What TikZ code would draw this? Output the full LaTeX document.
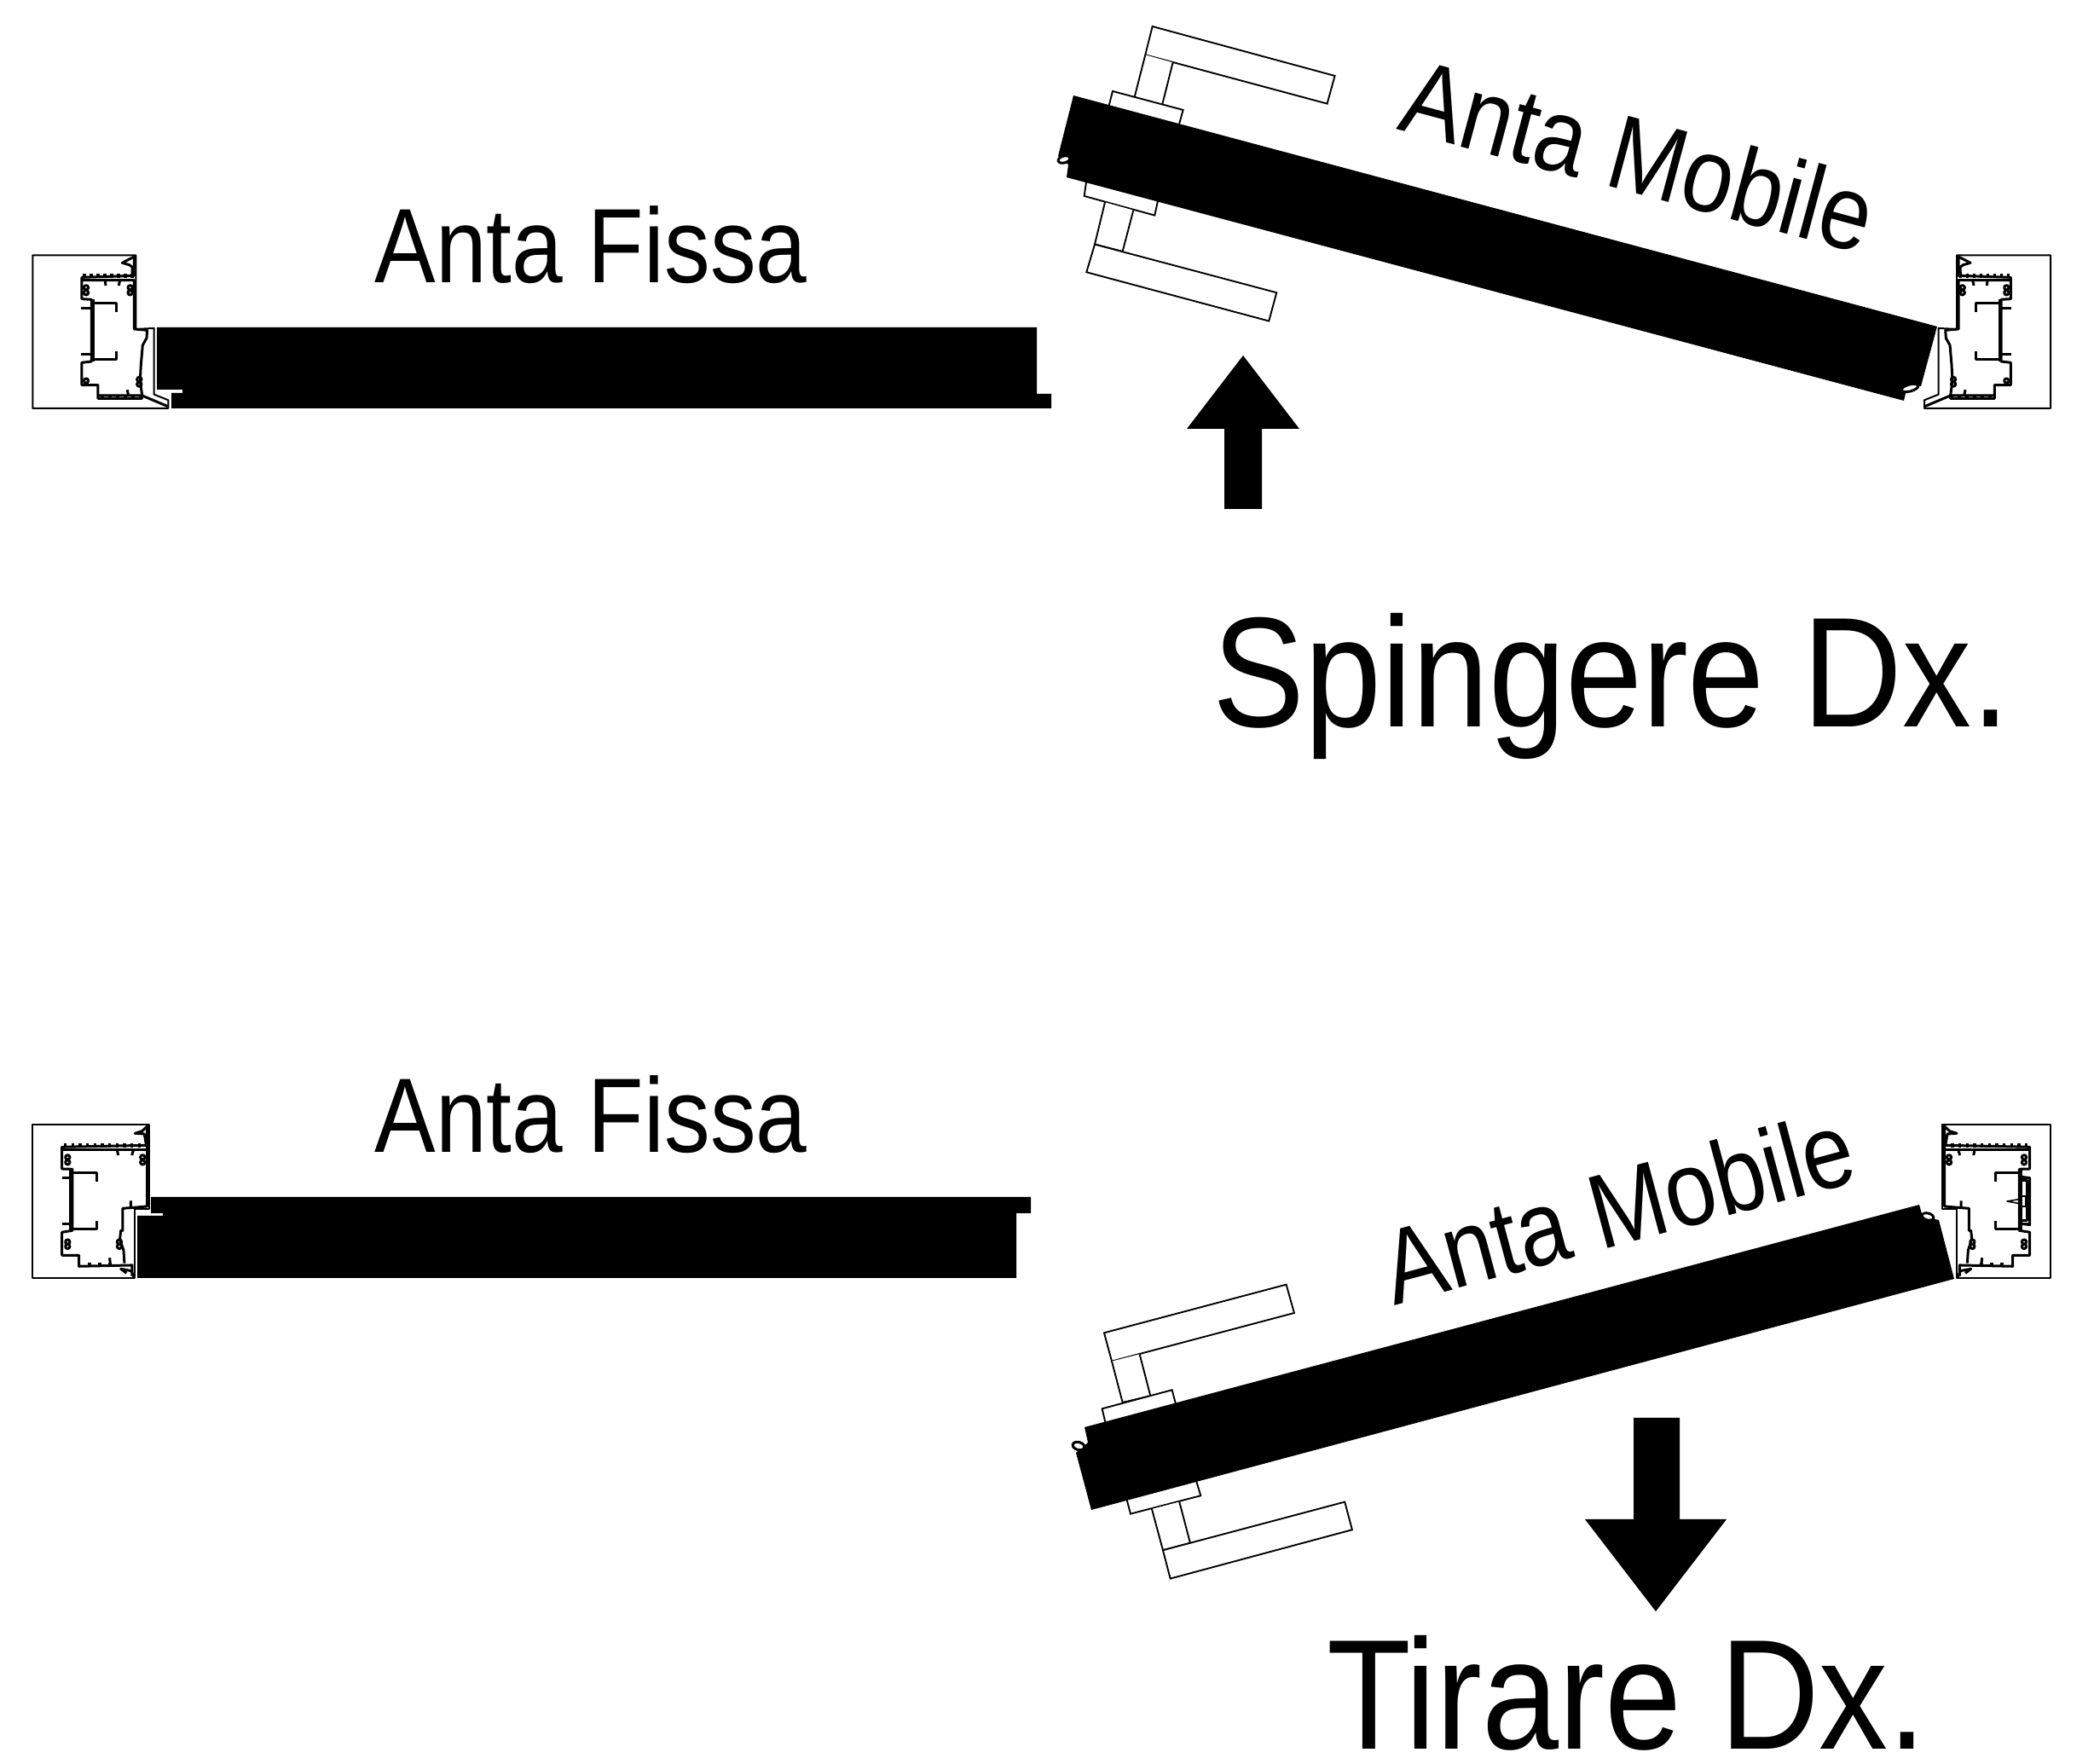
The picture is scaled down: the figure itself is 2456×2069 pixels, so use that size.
\documentclass[tikz,border=0pt]{standalone}
\usepackage{fontspec}
\setmainfont{Liberation Sans}
\tikzset{
  detail/.style={x=.03333mm,y=-.03333mm,line width=.3mm,line join=round},
  fitting/.style={draw,fill=white,line width=.19mm,line join=miter},
  panel/.style={fill=black},
  small label/.style={font=\fontsize{35.3pt}{36pt}\selectfont,anchor=base,inner sep=0pt},
  big label/.style={font=\fontsize{52.3pt}{53pt}\selectfont,anchor=base,inner sep=0pt,xscale=.88},
}
% profilo stretto, #1 = bordo esterno del telaio
\newcommand{\profilestretto}[1]{
  \draw[line width=.2mm] (#1,58) -- (418,58) -- (418,318) -- (482,315) -- (482,548) -- (532,568) -- (532,597) -- (#1,597) -- cycle;
  \draw (412,60) -- (412,130) -- (228,136) -- (228,212) -- (262,214) -- (262,432) -- (228,436) -- (228,515) -- (285,515) -- (285,562) -- (440,562) -- (440,550) -- (433,500) -- (436,445) -- (442,375) -- (456,350) -- (458,322) -- (412,318) -- (412,146) -- (232,146);
  \draw (285,552) -- (440,552) -- (530,590);
  \draw (268,214) -- (268,432);
  \draw (262,228) -- (350,228) -- (350,258);
  \draw (262,425) -- (350,425) -- (350,395);
  \draw (225,245) -- (262,245);
  \draw (225,407) -- (262,407);
  \draw (310,146) -- (312,165);
  \draw (362,146) -- (358,165);
  \draw (392,552) -- (388,532);
  \foreach \tx in {232,256,...,400} \fill (\tx,124) rectangle ++(10,14);
  \foreach \tx in {295,322,...,430} \fill (\tx,548) rectangle ++(11,16);
  \foreach \tx/\ty in {243/172,243/190,398/172,398/190,243/500,430/495,430/512} \draw (\tx,\ty) circle (8);
  \draw (416,62) -- (395,72) -- (370,85) -- (395,92) -- (406,100) -- (405,130);
}
% profilo largo, #1 = bordo esterno del telaio
\newcommand{\profilelargo}[1]{
  \draw[line width=.2mm] (#1,58) -- (465,58) -- (465,355) -- (415,355) -- (415,597) -- (#1,597) -- cycle;
  \draw (458,62) -- (458,345) -- (400,350) -- (400,325);
  \draw (400,350) -- (372,352) -- (372,430) -- (365,430) -- (362,460) -- (375,500) -- (378,545);
  \draw (458,130) -- (158,136) -- (158,213) -- (195,214) -- (195,430) -- (158,436) -- (158,517) -- (218,517) -- (218,556) -- (405,552) -- (405,590);
  \draw (162,146) -- (458,146);
  \draw (188,214) -- (188,430);
  \draw (195,228) -- (280,228) -- (280,258);
  \draw (195,425) -- (280,425) -- (280,395);
  \draw (158,245) -- (195,245);
  \draw (158,407) -- (195,407);
  \draw (352,146) -- (356,165);
  \draw (410,146) -- (404,165);
  \draw (328,545) -- (326,526);
  \foreach \tx in {165,191,...,440} \fill (\tx,124) rectangle ++(10,14);
  \foreach \tx in {250,286,...,330} \fill (\tx,543) rectangle ++(11,15);
  \foreach \tx/\ty in {178/172,178/190,442/172,442/190,178/470,178/486,360/470,360/486} \draw (\tx,\ty) circle (8);
  \draw (462,60) -- (440,80) -- (415,88) -- (448,90) -- (455,130);
  \draw (412,595) -- (402,572) -- (365,565) -- (385,580);
}
\begin{document}
\begin{tikzpicture}[x=.1mm,y=-.1mm]
  \useasboundingbox (0,0) rectangle (2456,2069);

  % ante fisse
  \fill[panel] (184,384) -- (1216,384) -- (1216,462) -- (1233,462) -- (1233,479) -- (201,479) -- (201,461) -- (214,461) -- (214,457) -- (184,457) -- cycle;
  \fill[panel] (177,1404) -- (1209,1404) -- (1209,1423) -- (1192,1423) -- (1192,1499) -- (161,1499) -- (161,1426) -- (191,1426) -- (191,1423) -- (177,1423) -- cycle;

  % maniglie in alto
  \begin{scope}[shift={(1220,20)},detail]
    \draw[fitting] (395,33) -- (1037,207) -- (1010,305) -- (370,133) -- cycle;
    \draw[fitting] (370,133) -- (330,290) -- (428,315) -- (467,160);
    \draw[fitting] (235,340) -- (255,261) -- (503,327) -- (480,410) -- cycle;
    \draw[fitting] (165,560) -- (155,630) -- (403,698) -- (420,620) -- cycle;
    \draw[fitting] (228,652) -- (192,800) -- (290,825) -- (328,680);
    \draw[fitting] (192,800) -- (832,970) -- (805,1070) -- (163,898) -- cycle;
  \end{scope}

  % maniglie in basso
  \begin{scope}[shift={(1240,1480)},detail]
    \draw[fitting] (165,250) -- (806,80) -- (834,180) -- (192,350) -- cycle;
    \draw[fitting] (192,350) -- (230,495) -- (328,472) -- (290,325);
    \draw[fitting] (175,590) -- (158,517) -- (404,451) -- (425,530) -- cycle;
    \draw[fitting] (480,740) -- (505,823) -- (258,887) -- (235,800) -- cycle;
    \draw[fitting] (333,870) -- (372,1015) -- (468,990) -- (430,845);
    \draw[fitting] (372,1015) -- (1012,845) -- (1038,943) -- (398,1115) -- cycle;
  \end{scope}

  % ante mobili
  \fill[panel] (1259,112) -- (2272,383) -- (2253,453) -- (2237,453) -- (2233,470) -- (1251,208) -- (1253,193) -- (1241,183) -- cycle;
  \fill[panel] (1272,1674) -- (2251,1413) -- (2255,1427) -- (2274,1431) -- (2292,1500) -- (1280,1771) -- (1262,1704) -- (1276,1692) -- cycle;

  % cerniere
  \draw[fill=white,line width=.3mm,rotate around={15:(1248,187)}] (1248,187) ellipse (7 and 4);
  \draw[fill=white,line width=.3mm,rotate around={15:(2240,455)}] (2240,455) ellipse (10 and 4);
  \draw[fill=white,line width=.3mm,rotate around={-15:(1265,1696)}] (1265,1696) ellipse (7 and 4.5);
  \draw[fill=white,line width=.3mm,rotate around={-15:(2261,1427)}] (2261,1427) ellipse (7 and 4);

  % telai
  \begin{scope}[shift={(20,280)},detail]
    \profilestretto{55}
  \end{scope}
  \begin{scope}[shift={(2434.33,280)},detail,xscale=-1]
    \profilestretto{88}
  \end{scope}
  \begin{scope}[shift={(20,1300)},detail]
    \profilelargo{55}
  \end{scope}
  \begin{scope}[shift={(2433.33,1300)},detail,xscale=-1]
    \profilelargo{85}
    \draw (195,240) -- (158,245) -- (158,410) -- (195,405);
    \draw (185,255) -- (168,255) -- (168,395) -- (185,395);
    \draw[line width=.16mm] (238,327) -- (195,320) -- (195,335) -- cycle;
    \draw[line width=.24mm] (195,310) -- (170,310) -- (170,345) -- (195,345);
  \end{scope}

  % frecce
  \fill[panel] (1458,417) -- (1524,503) -- (1480,503) -- (1480,597) -- (1436,597) -- (1436,503) -- (1392,503) -- cycle;
  \fill[panel] (1916,1663) -- (1970,1663) -- (1970,1782) -- (2025,1782) -- (1942,1890) -- (1859,1782) -- (1916,1782) -- cycle;

  % testi
  \node (fissaalto) [small label,xscale=.865] at (693,332) {Anta Fissa};
  \node (fissabasso) [small label,xscale=.865] at (693,1352) {Anta Fissa};
  \node (mobilealto) [small label,rotate=-15,xscale=.865] at (1911,225) {Anta Mobile};
  \node (mobilebasso) [small label,rotate=15,xscale=.865] at (1909,1458) {Anta Mobile};
  \node (spingere) [big label] at (1890,853) {Spingere Dx.};
  \node (tirare) [big label] at (1908,2052) {Tirare Dx.};
\end{tikzpicture}
\end{document}
